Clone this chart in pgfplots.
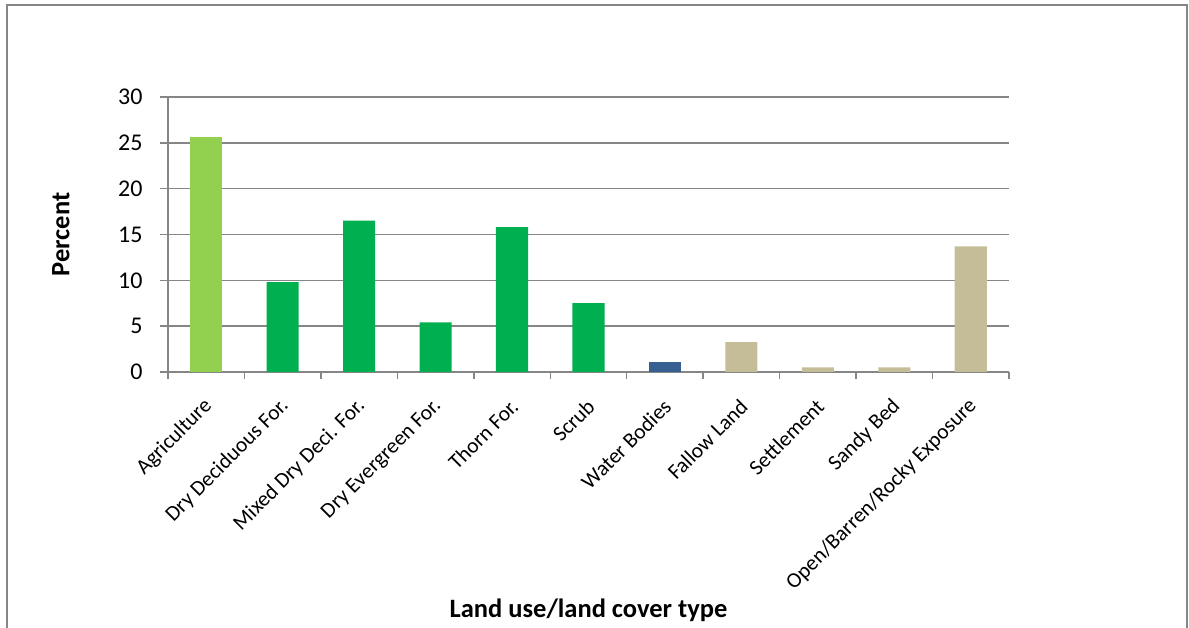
\documentclass[border=0pt]{standalone}
\usepackage{fontspec}
\setmainfont{Carlito}
\usepackage{pgfplots}
\pgfplotsset{compat=1.18}

\definecolor{agri}{RGB}{146,208,80}
\definecolor{forest}{RGB}{0,176,80}
\definecolor{water}{RGB}{54,96,146}
\definecolor{openland}{RGB}{196,189,151}
\definecolor{axisgray}{RGB}{134,134,134}

\begin{document}
\begin{tikzpicture}[x=1pt,y=1pt]
\useasboundingbox (0,0) rectangle (1189,628);
% chart area frame
\draw[axisgray, line width=1.5pt] (7,-40) rectangle (1187,623);
\begin{axis}[
  at={(168pt,256pt)}, anchor=south west,
  scale only axis, width=841pt, height=275pt,
  xmin=-0.5, xmax=10.5, ymin=0, ymax=30,
  axis x line*=bottom, axis y line*=left,
  axis line style={axisgray, line width=1.5pt},
  ytick={0,5,...,30},
  xtick={0,...,10},
  minor xtick={-0.5,0.5,...,10.5},
  xticklabels={Agriculture, Dry Deciduous For., Mixed Dry Deci. For., Dry Evergreen For., Thorn For., Scrub, Water Bodies, Fallow Land, Settlement, Sandy Bed, Open/Barren/Rocky Exposure},
  tick align=outside,
  major tick length=8pt, minor tick length=7pt,
  ytick style={axisgray, line width=1.5pt},
  xtick style={draw=none},
  minor x tick style={draw=axisgray, line width=1.5pt},
  ymajorgrids,
  major grid style={axisgray, line width=1.6pt},
  /pgf/number format/assume math mode=true,
  yticklabel style={font=\fontsize{24}{28}\selectfont, xshift=-14pt},
  xticklabel style={font=\fontsize{21.5}{25}\selectfont, rotate=45, anchor=east, yshift=-18pt, xshift=-11pt},
  ylabel={\textbf{Percent}},
  ylabel style={at={(rel axis cs:0,0.5)}, anchor=center, yshift=107pt, font=\fontsize{26.5}{30}\selectfont},
  xlabel={\textbf{Land use/land cover type}},
  xlabel style={at={(rel axis cs:0.5,0)}, anchor=center, yshift=-238pt, font=\fontsize{26.5}{30}\selectfont},
  clip=false,
]
\addplot[ybar, bar width=0.42, bar shift=0pt, fill=agri, draw=none]
  coordinates {(0,25.6)};
\addplot[ybar, bar width=0.42, bar shift=0pt, fill=forest, draw=none]
  coordinates {(1,9.8) (2,16.5) (3,5.4) (4,15.8) (5,7.5)};
\addplot[ybar, bar width=0.42, bar shift=0pt, fill=water, draw=none]
  coordinates {(6,1.05)};
\addplot[ybar, bar width=0.42, bar shift=0pt, fill=openland, draw=none]
  coordinates {(7,3.25) (8,0.5) (9,0.5) (10,13.7)};
\end{axis}
\end{tikzpicture}
\end{document}
